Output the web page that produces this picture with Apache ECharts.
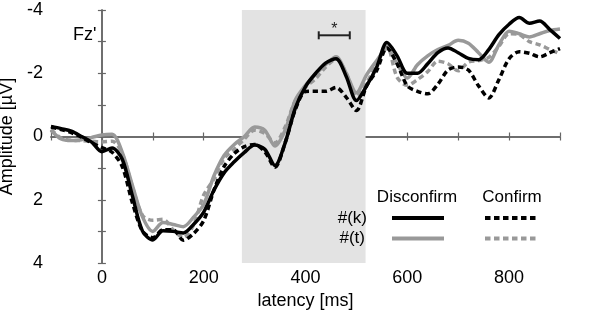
<!DOCTYPE html>
<html>
<head>
<meta charset="utf-8">
<script src="https://cdn.jsdelivr.net/npm/echarts@6/dist/echarts.min.js"></script>
<style>
  html, body { margin: 0; padding: 0; background: #fff; }
  #chart { width: 600px; height: 314px; }
</style>
</head>
<body>
<div id="chart"></div>
<script>
// latency in ms, one sample every 20 ms
var latency = [-100,-80,-60,-40,-20,0,20,40,60,80,100,120,140,160,180,200,220,240,260,280,
  300,320,340,360,380,400,420,440,460,480,500,520,540,560,580,600,620,640,660,680,
  700,720,740,760,780,800,820,840,860,880,900];

// Disconfirm #(k) - black solid
var disconfirmK = [-0.32,-0.25,-0.17,0.0,0.18,0.48,0.36,0.72,1.88,3.0,3.27,2.98,3.0,3.05,2.78,2.39,1.7,1.15,0.8,0.5,
  0.27,0.4,0.92,0.2,-0.9,-1.58,-2.0,-2.33,-2.46,-1.9,-1.14,-1.6,-2.2,-2.97,-2.55,-2.0,-2.0,-2.3,-2.65,-2.8,
  -2.65,-2.47,-2.43,-2.75,-3.22,-3.55,-3.76,-3.58,-3.65,-3.38,-3.1];
// Disconfirm #(t) - grey solid
var disconfirmT = [-0.2,0.08,0.13,0.1,0.03,-0.05,-0.07,0.5,1.55,2.55,3.0,2.72,2.78,2.85,2.55,2.15,1.25,0.6,0.25,0.0,
  -0.3,-0.2,0.3,-0.2,-1.15,-1.62,-1.98,-2.28,-2.52,-2.0,-1.38,-1.95,-2.4,-2.78,-2.3,-1.85,-2.27,-2.55,-2.75,-2.88,
  -3.04,-2.95,-2.65,-2.35,-2.9,-3.33,-3.25,-3.15,-3.25,-3.35,-3.4];
// Confirm #(k) - black dashed
var confirmK = [-0.3,-0.22,-0.12,0.02,0.2,0.35,0.5,0.95,2.1,3.0,3.2,2.95,2.95,3.28,3.07,2.66,1.7,0.95,0.54,0.32,
  0.25,0.48,0.97,0.2,-0.85,-1.42,-1.43,-1.43,-1.55,-1.24,-0.82,-1.6,-2.09,-2.8,-2.3,-1.6,-1.43,-1.35,-1.65,-2.1,
  -2.2,-2.1,-1.6,-1.22,-1.8,-2.46,-2.68,-2.63,-2.52,-2.65,-2.78];
// Confirm #(t) - grey dashed
var confirmT = [-0.22,0.05,0.12,0.13,0.15,0.17,0.15,0.55,1.6,2.5,2.65,2.62,2.95,3.2,2.8,1.85,1.35,0.7,0.4,0.08,
  -0.2,-0.1,0.2,-0.3,-1.14,-1.56,-1.83,-2.2,-2.45,-2.0,-1.28,-1.7,-2.3,-2.85,-1.87,-1.62,-1.8,-2.05,-2.38,-2.3,
  -2.08,-2.35,-2.4,-2.5,-2.85,-3.25,-3.22,-3.0,-2.9,-2.75,-2.62];

// analysis window and significant interval
var windowRange = [275, 518];
var sigRange = [426, 487, -3.2];

var xTicks = [0, 200, 400, 600, 800];
var yTicks = [-4, -2, 0, 2, 4];

function pairs(vals){
    var out = [];
    for (var i = 0; i < latency.length; i++) out.push([latency[i], vals[i]]);
    return out;
}

var BLACK = '#000';
var GREY = '#999';
var LW = 3.5;
var DASH = [5.5, 3.5];
var FONT = 'Liberation Sans, Arial, sans-serif';

var myChart = echarts.init(document.getElementById('chart'));

var axisLine = { show: true, lineStyle: { color: '#666', width: 1.5 } };
var tick = { show: true, inside: true, length: 4, lineStyle: { color: '#666', width: 1.2 } };

// legend is a small 2x2 table, drawn by hand above the shaded window
function legendText(txt, x, y, align){
    return { type: 'text', z: 100, x: x, y: y,
        style: { text: txt, fill: '#000', font: '17px ' + FONT, align: align, verticalAlign: 'middle' } };
}
function legendLine(x1, x2, y, color, dash){
    return { type: 'line', z: 100, shape: { x1: x1, y1: y, x2: x2, y2: y },
        style: { stroke: color, lineWidth: 4, lineDash: dash || null } };
}

var option = {
    animation: false,
    grid: { left: 51, right: 40, top: 10, bottom: 51, outerBoundsMode: 'none' },
    xAxis: [
        {
            type: 'value', min: -100, max: 900, interval: 100, position: 'bottom',
            name: 'latency [ms]', nameLocation: 'middle', nameGap: 29,
            nameTextStyle: { fontFamily: FONT, fontSize: 18, color: '#000' },
            axisLine: axisLine, axisTick: tick, splitLine: { show: false },
            axisLabel: {
                fontFamily: FONT, fontSize: 18, color: '#000', margin: 6,
                formatter: function(v){ return xTicks.indexOf(v) >= 0 ? String(v) : ''; }
            }
        },
        {
            type: 'value', min: -100, max: 900, interval: 100, position: 'top',
            axisLine: axisLine, axisTick: tick, splitLine: { show: false },
            axisLabel: { show: false }
        }
    ],
    yAxis: [
        {
            type: 'value', min: -4, max: 4, interval: 1, inverse: true, position: 'left',
            name: 'Amplitude [µV]', nameLocation: 'middle', nameGap: 30,
            nameTextStyle: { fontFamily: FONT, fontSize: 18, color: '#000' },
            axisLine: axisLine, axisTick: tick, splitLine: { show: false },
            axisLabel: {
                fontFamily: FONT, fontSize: 18, color: '#000', margin: 8,
                formatter: function(v){ return yTicks.indexOf(v) >= 0 ? String(v) : ''; }
            }
        },
        {
            type: 'value', min: -4, max: 4, interval: 1, inverse: true, position: 'right',
            axisLine: axisLine, axisTick: tick, splitLine: { show: false },
            axisLabel: { show: false }
        }
    ],
    series: [
        {
            name: 'Confirm #(t)', type: 'line', data: pairs(confirmT), smooth: 0.3,
            showSymbol: false, lineStyle: { color: GREY, width: LW, type: DASH },
            markArea: {
                silent: true,
                itemStyle: { color: '#e3e3e3' },
                data: [[{ xAxis: windowRange[0] }, { xAxis: windowRange[1] }]]
            }
        },
        {
            name: 'Disconfirm #(t)', type: 'line', data: pairs(disconfirmT), smooth: 0.3,
            showSymbol: false, lineStyle: { color: GREY, width: LW }
        },
        {
            name: 'Confirm #(k)', type: 'line', data: pairs(confirmK), smooth: 0.3,
            showSymbol: false, lineStyle: { color: BLACK, width: LW, type: DASH }
        },
        {
            name: 'Disconfirm #(k)', type: 'line', data: pairs(disconfirmK), smooth: 0.3,
            showSymbol: false, lineStyle: { color: BLACK, width: LW }
        },
        {
            // significance bar with asterisk
            type: 'custom', data: [sigRange], encode: { x: [0, 1], y: 2 },
            renderItem: function(params, api){
                var a = api.coord([api.value(0), api.value(2)]);
                var b = api.coord([api.value(1), api.value(2)]);
                var st = { stroke: '#222', lineWidth: 2 };
                return {
                    type: 'group',
                    children: [
                        { type: 'line', shape: { x1: a[0], y1: a[1], x2: b[0], y2: b[1] }, style: st },
                        { type: 'line', shape: { x1: a[0], y1: a[1] - 4, x2: a[0], y2: a[1] + 4 }, style: st },
                        { type: 'line', shape: { x1: b[0], y1: b[1] - 4, x2: b[0], y2: b[1] + 4 }, style: st },
                        { type: 'text', x: (a[0] + b[0]) / 2, y: a[1] - 6,
                          style: { text: '*', fill: '#222', font: '16px ' + FONT, align: 'center', verticalAlign: 'middle' } }
                    ]
                };
            }
        }
    ],
    graphic: [
        { type: 'text', z: 100, left: 73, top: 26, style: { text: "Fz'", fill: '#000', font: '18px ' + FONT } },
        legendText('Disconfirm', 417, 197, 'center'),
        legendText('Confirm', 512, 197, 'center'),
        legendText('#(k)', 367, 218, 'right'),
        legendText('#(t)', 365, 238, 'right'),
        legendLine(392, 444, 218, BLACK),
        legendLine(392, 444, 238.5, GREY),
        legendLine(485, 538, 218, BLACK, DASH),
        legendLine(485, 538, 238.5, GREY, DASH)
    ]
};

myChart.setOption(option);
</script>
</body>
</html>
